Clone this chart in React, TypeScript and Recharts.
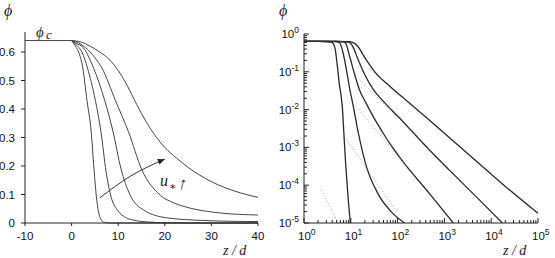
import React from "react";
import { LineChart, Line, XAxis, YAxis } from "recharts";

type Pt = [number, number];

// ---- left panel: phi against z/d, linear axes ----
const phiC = 0.64;
const leftPlateau: Pt[] = [[-10, phiC], [0, phiC]];

const leftCurve1: Pt[] = [
  [0, 0.64], [0.8, 0.62], [1.5, 0.6], [2.4, 0.544], [3.3, 0.43], [4.2, 0.32],
  [4.8, 0.19], [5.4, 0.08], [5.9, 0.03], [6.4, 0.01], [7, 0.002], [8, 0], [40, 0],
];
const leftCurve2: Pt[] = [
  [0, 0.64], [1, 0.625], [2.2, 0.6], [3.4, 0.544], [5.1, 0.43], [6.3, 0.32],
  [7.4, 0.18], [8.5, 0.09], [9.8, 0.046], [11.5, 0.02], [13.3, 0.01], [16, 0.004],
  [20, 0.001], [25, 0], [40, 0],
];
const leftCurve3: Pt[] = [
  [0, 0.64], [1, 0.63], [2.5, 0.615], [4.7, 0.544], [7.1, 0.43], [8.9, 0.32],
  [10.6, 0.19], [12.5, 0.1], [15.5, 0.045], [20.5, 0.018], [28, 0.009], [34, 0.006],
  [40, 0.005],
];
const leftCurve4: Pt[] = [
  [0, 0.64], [1, 0.635], [3, 0.615], [5, 0.58], [6.5, 0.544], [9.4, 0.43],
  [12.2, 0.32], [15.1, 0.186], [19, 0.098], [22, 0.07], [25.5, 0.052], [32, 0.035],
  [40, 0.028],
];
const leftCurve5: Pt[] = [
  [0, 0.64], [2, 0.635], [4, 0.62], [6, 0.6], [8, 0.575], [10, 0.535], [12, 0.48],
  [14, 0.415], [16, 0.355], [18, 0.305], [20, 0.265], [22.5, 0.228], [25, 0.195],
  [30, 0.145], [35, 0.112], [40, 0.09],
];
const leftCurves = [leftCurve1, leftCurve2, leftCurve3, leftCurve4, leftCurve5];

const arrowPath: Pt[] = [[6.1, 0.089], [12.6, 0.164], [20, 0.224]];

const leftXTicks = [-10, 0, 10, 20, 30, 40];
const leftYTicks = [0, 0.1, 0.2, 0.3, 0.4, 0.5, 0.6];

// ---- right panel: same profiles on log-log axes ----
const rightCurveA: Pt[] = [
  [1, 0.64], [2, 0.635], [3, 0.62], [3.9, 0.6], [4.2, 0.56], [4.6, 0.42], [5.1, 0.16],
  [5.65, 0.05], [6.3, 0.02], [6.65, 0.01], [7.1, 0.0024], [7.83, 3.1e-4], [8.77, 4.5e-5],
  [9.8, 1e-5],
];
const rightCurveB: Pt[] = [
  [1, 0.64], [3, 0.635], [5, 0.62], [5.8, 0.58], [6.9, 0.3], [8.1, 0.11], [9.5, 0.035],
  [11.2, 0.013], [14.3, 0.0026], [21.6, 3.1e-4], [38, 6e-5], [79, 1.8e-5], [140, 1e-5],
];
const rightCurveC: Pt[] = [
  [1, 0.64], [5, 0.635], [7, 0.615], [7.7, 0.58], [9.5, 0.25], [12.1, 0.085],
  [15.5, 0.032], [20, 0.017], [30, 0.0066], [50, 0.0023], [80, 9.5e-4], [130, 4.2e-4],
  [480, 6e-5], [1550, 1e-5],
];
const rightCurveD: Pt[] = [
  [1, 0.64], [5, 0.635], [8, 0.62], [9.5, 0.59], [11.2, 0.45], [14.3, 0.21], [19.8, 0.085],
  [29.8, 0.035], [48.7, 0.017], [110, 0.006], [480, 8.5e-4], [1277, 2.5e-4],
  [5000, 4.7e-5], [17400, 1e-5],
];
const rightCurveE: Pt[] = [
  [1, 0.64], [5, 0.64], [9, 0.625], [11.2, 0.59], [14.3, 0.46], [19.8, 0.24], [32.5, 0.1],
  [67, 0.042], [150, 0.018], [480, 5.2e-3], [3000, 7.2e-4], [20000, 9.3e-5],
  [100000, 1.8e-5],
];
const rightCurves = [rightCurveA, rightCurveB, rightCurveC, rightCurveD, rightCurveE];

// dotted power-law guides
const guide1: Pt[] = [[2.38, 7.4e-5], [5.4, 1e-5]];
const guide2: Pt[] = [[7.4, 1.9e-3], [95, 2e-5]];
const guide3: Pt[] = [[12.2, 0.013], [130, 4.2e-4]];
const guide4: Pt[] = [[15.5, 0.06], [90, 0.0072]];
const guide5: Pt[] = [[24.5, 0.124], [120, 0.022]];
const guides = [guide1, guide2, guide3, guide4, guide5];

const rightXMajor = [1, 10, 100, 1000, 10000, 100000];
const rightYMajor = [1e-5, 1e-4, 1e-3, 1e-2, 1e-1, 1];

const withMinor = (majors: number[]) => {
  const out: number[] = [];
  majors.forEach((m, i) => {
    out.push(m);
    if (i < majors.length - 1) for (let k = 2; k <= 9; k++) out.push(+(m * k).toPrecision(6));
  });
  return out;
};
const rightXTicks = withMinor(rightXMajor);
const rightYTicks = withMinor(rightYMajor);

const rows = (pts: Pt[]) => pts.map(([z, p]) => ({ z, p }));

const isDecade = (v: number) => Math.abs(Math.log10(v) - Math.round(Math.log10(v))) < 1e-6;

const LogXTick = (props: any) => {
  const { x, y, payload } = props;
  const major = isDecade(payload.value);
  const e = Math.round(Math.log10(payload.value));
  return (
    <g>
      <line x1={x} y1={y} x2={x} y2={y - (major ? 5 : 3)} stroke="#222" />
      {major && (
        <text x={x - 6} y={y + 17} fontSize={11.5} fill="#111">
          10<tspan dy={-5} fontSize={8.5}>{e}</tspan>
        </text>
      )}
    </g>
  );
};

const LogYTick = (props: any) => {
  const { x, y, payload } = props;
  const major = isDecade(payload.value);
  const e = Math.round(Math.log10(payload.value));
  return (
    <g>
      <line x1={x} y1={y} x2={x + (major ? 5 : 3)} y2={y} stroke="#222" />
      {major && (
        <text x={x - 5} y={y + 4} fontSize={11.5} fill="#111" textAnchor="end">
          10<tspan dy={-5} fontSize={8.5}>{e}</tspan>
        </text>
      )}
    </g>
  );
};

const ArrowHead = (props: any) => {
  const { cx, cy, index, points } = props;
  if (index !== arrowPath.length - 1) return <g key={"a" + index} />;
  let ang = (-24 * Math.PI) / 180;
  if (points && points[index - 1]) {
    const p = points[index - 1];
    ang = Math.atan2(cy - p.y, cx - p.x) + (4 * Math.PI) / 180;
  }
  const L = 7, W = 3;
  const bx = cx - L * Math.cos(ang), by = cy - L * Math.sin(ang);
  const nx = -Math.sin(ang) * W, ny = Math.cos(ang) * W;
  return (
    <path
      key={"a" + index}
      d={`M${cx},${cy} L${bx + nx},${by + ny} L${bx - nx},${by - ny} Z`}
      fill="#222"
      stroke="none"
    />
  );
};

const serif = "'Liberation Serif', 'DejaVu Serif', serif";

export default function App() {
  return (
    <div
      style={{
        position: "absolute",
        left: 0,
        top: 0,
        width: 555,
        height: 258,
        background: "#fff",
        fontFamily: "'Liberation Sans', Arial, sans-serif",
      }}
    >
      <div style={{ position: "absolute", left: 0, top: 0 }}>
        <LineChart width={270} height={258} margin={{ top: 32, right: 12, bottom: 0, left: 0 }}>
          <XAxis
            dataKey="z"
            type="number"
            domain={[-10, 40]}
            ticks={leftXTicks}
            interval={0}
            height={35}
            stroke="#222"
            tickSize={3}
            tickMargin={6}
            tick={{ fill: "#111", fontSize: 11.5 }}
          />
          <YAxis
            type="number"
            domain={[0, 0.67]}
            ticks={leftYTicks}
            interval={0}
            width={25}
            stroke="#222"
            tickSize={4}
            tickMargin={6}
            tick={{ fill: "#111", fontSize: 11.5 }}
          />
          <Line data={rows(leftPlateau)} dataKey="p" type="linear" stroke="#444" strokeWidth={1} dot={false} isAnimationActive={false} />
          {leftCurves.map((c, i) => (
            <Line key={"l" + i} data={rows(c)} dataKey="p" type="monotone" stroke="#444" strokeWidth={1} dot={false} isAnimationActive={false} />
          ))}
          <Line data={rows(arrowPath)} dataKey="p" type="monotone" stroke="#333" strokeWidth={1} dot={ArrowHead} isAnimationActive={false} />
        </LineChart>
      </div>

      <div style={{ position: "absolute", left: 275, top: 0 }}>
        <LineChart width={280} height={258} margin={{ top: 34, right: 17, bottom: 0, left: 0 }}>
          <XAxis
            dataKey="z"
            type="number"
            scale="log"
            domain={[1, 100000]}
            allowDataOverflow
            ticks={rightXTicks}
            interval={0}
            height={35}
            stroke="#222"
            tickLine={false}
            tickSize={0}
            tickMargin={0}
            tick={LogXTick}
          />
          <YAxis
            type="number"
            scale="log"
            domain={[1e-5, 1]}
            allowDataOverflow
            ticks={rightYTicks}
            interval={0}
            width={29}
            stroke="#222"
            tickLine={false}
            tickSize={0}
            tickMargin={0}
            tick={LogYTick}
          />
          {guides.map((g, i) => (
            <Line key={"g" + i} data={rows(g)} dataKey="p" type="linear" stroke="#999" strokeWidth={1} strokeDasharray="1 2" dot={false} isAnimationActive={false} />
          ))}
          {rightCurves.map((c, i) => (
            <Line key={"r" + i} data={rows(c)} dataKey="p" type="monotone" stroke="#2a2a2a" strokeWidth={1.3} dot={false} isAnimationActive={false} />
          ))}
        </LineChart>
      </div>

      <svg width={555} height={258} style={{ position: "absolute", left: 0, top: 0, pointerEvents: "none" }}>
        <g fontFamily={serif} fontStyle="italic" fill="#222">
          <text x={4} y={16} fontSize={16}>ϕ</text>
          <text x={279} y={16} fontSize={16}>ϕ</text>
          <text x={36} y={37} fontSize={15}>ϕ</text>
          <text x={46} y={39} fontSize={13}>c</text>
          <text x={223} y={255} fontSize={14}>z / d</text>
          <text x={503} y={255} fontSize={14}>z / d</text>
          <text x={160} y={186} fontSize={16}>u</text>
          <text x={169} y={190} fontSize={11} fontStyle="normal">∗</text>
          <text x={0} y={0} fontSize={17} fontStyle="normal" transform="translate(177,189) skewX(-15)">↑</text>
        </g>
      </svg>
    </div>
  );
}
